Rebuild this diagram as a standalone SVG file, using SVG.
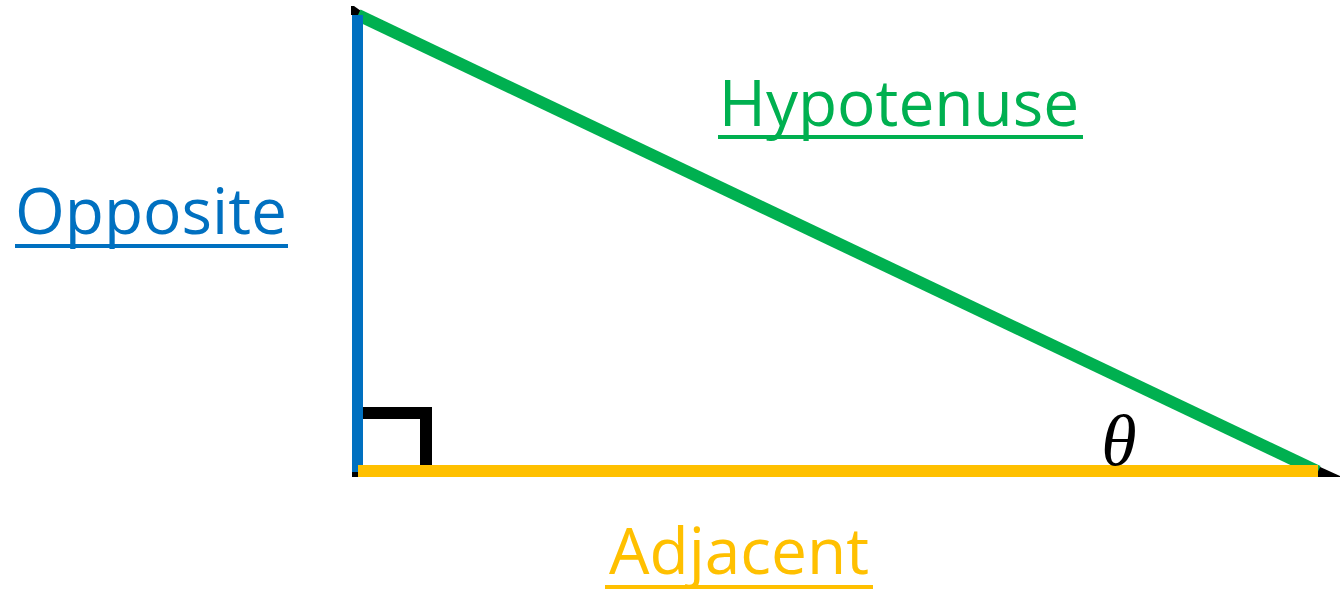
<svg xmlns="http://www.w3.org/2000/svg" width="1340" height="592" viewBox="0 0 1340 592">
<style>
.lbl{font-family:"Open Sans","Liberation Sans",sans-serif;font-size:64px;text-anchor:middle}
.ul{stroke-width:4}
</style>
<rect width="1340" height="592" fill="#fff"/>
<g id="triangle">
<polygon points="351,6 354,6 361,11 363,15 351,15" fill="#000"/>
<rect x="352" y="471" width="6" height="6" fill="#000"/>
<polygon points="1318,466 1340,476 1340,477 1318,477" fill="#000"/>
<line id="hypotenuse" x1="358" y1="15" x2="1318" y2="471.5" stroke="#00B050" stroke-width="12"/>
<rect id="opposite" x="352" y="15" width="11" height="457" fill="#0070C0"/>
<rect id="adjacent" x="358" y="465" width="960" height="12" fill="#FFC000"/>
<path id="right-angle" d="M363 413 H426 V465" fill="none" stroke="#000" stroke-width="12" stroke-linejoin="miter"/>
</g>
<g id="label-hypotenuse">
<text class="lbl" x="899" y="126" fill="#00B050">Hypotenuse</text>
<line class="ul" x1="718" y1="137" x2="1083" y2="137" stroke="#00B050"/>
</g>
<g id="label-opposite">
<text class="lbl" x="151" y="234" fill="#0070C0">Opposite</text>
<line class="ul" x1="15" y1="246" x2="288" y2="246" stroke="#0070C0"/>
</g>
<g id="label-adjacent">
<text class="lbl" x="739" y="574" fill="#FFC000">Adjacent</text>
<line class="ul" x1="605" y1="587" x2="873" y2="587" stroke="#FFC000"/>
</g>
<g id="label-theta">
<text x="1119" y="465" font-family="'Liberation Serif',serif" font-style="italic" font-size="72" text-anchor="middle" fill="#000">θ</text>
</g>
</svg>
